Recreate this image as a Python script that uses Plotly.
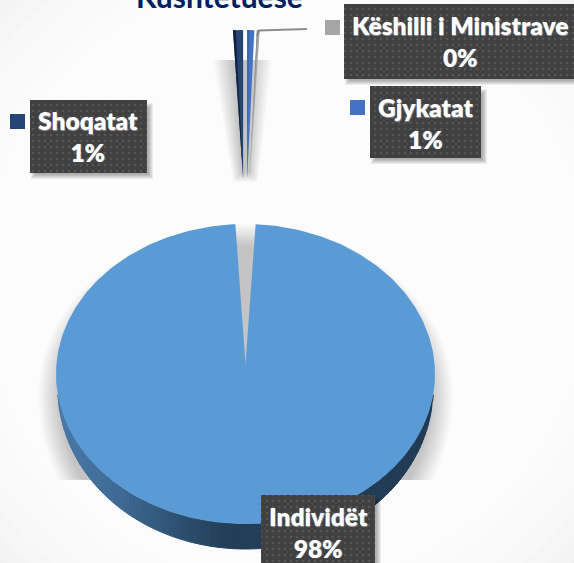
import numpy as np
import plotly.graph_objects as go

# --- data ---
categories = ["Individët", "Shoqatat", "Gjykatat", "Këshilli i Ministrave"]
values = [98.3, 0.85, 0.6, 0.25]
shown_percent = ["98%", "1%", "1%", "0%"]
slice_colors = ["#5B9BD5", "#264478", "#4472C4", "#A5A5A5"]
title_text = "Kushtetuese"

W, H = 574, 563
AX, AY = 245.5, 364      # apex of the big slice
CY, RX, RY = 374, 189.5, 150   # rim of the pie
DEPTH = 25
EXPLODE_Y, EXPLODE_X, SLIVER_RY = 186, 90, 148

fig = go.Figure()


def poly(x, y, color, opacity=None, name=None, seal=False):
    fig.add_trace(go.Scatter(x=list(x), y=list(y), mode="lines", fill="toself",
                             fillcolor=color, line=dict(width=1 if seal else 0, color=color),
                             hoverinfo="skip", showlegend=False, name=name or "", opacity=opacity))


def rect(x0, y0, x1, y1, color):
    poly([x0, x1, x1, x0, x0], [y0, y0, y1, y1, y0], color)


def outline(t):
    """Point on the tilted rim; t in radians clockwise from the top."""
    return AX + RX * np.sin(t), CY - RY * np.cos(t)


# --- soft shadow behind the pie: an enlarged rim, cut off flat underneath ---
tt_all = np.linspace(0, 2 * np.pi, 241)
for i in range(14):
    d = i * 1.6
    sx = 245.5 + (207 - d) * np.sin(tt_all)
    sy = 395 - np.where(np.cos(tt_all) > 0, 171 - d, 200 - d) * np.cos(tt_all)
    poly(sx, np.minimum(sy, 480), "rgba(0,0,0,0.017)")

# --- soft shadow behind the exploded slices ---
for i in range(14):
    d = i * 1.5
    poly([213 + d, 272 - d, 258 - d * 0.45, 233 + d * 0.45, 213 + d],
         [60, 60, 182 - d * 0.5, 182 - d * 0.5, 60], "rgba(0,0,0,0.015)")

# --- slice spans from values ---
total = sum(values)
spans = np.array(values) / total * 2 * np.pi
gap = sum(spans[1:])

# big slice: side wall first
t_main = np.linspace(gap / 2, 2 * np.pi - gap / 2, 361)
mx, my = outline(t_main)
wall_t = np.linspace(np.pi / 2 - 0.02, 3 * np.pi / 2 + 0.02, 121)


def wall_color(x):
    stops = [(56, (74, 122, 168)), (120, (62, 105, 148)), (180, (45, 80, 112)),
             (225, (35, 62, 88)), (435, (34, 60, 85))]
    xs = [s[0] for s in stops]
    r, g, b = [np.interp(x, xs, [s[1][k] for s in stops]) for k in range(3)]
    return f"rgb({r:.0f},{g:.0f},{b:.0f})"


def wall_drop(y):
    return DEPTH * np.clip((y - 398) / (CY + RY - 398), 0, 1) ** 0.4


for a, b in zip(wall_t[:-1], wall_t[1:]):
    seg = np.linspace(a, b, 3)
    sx, sy = outline(seg)
    if sy.max() < 398:
        continue
    poly(list(sx) + list(sx[::-1]) + [sx[0]],
         list(sy) + list((sy + wall_drop(sy))[::-1]) + [sy[0]],
         wall_color(sx.mean()), seal=True)

poly(list(mx) + [AX, mx[0]], list(my) + [AY, my[0]], slice_colors[0], name=categories[0])

# exploded small slices
edge_colors = [None, "#12233F", "#3A62AC", "#7F7F7F"]
start = -gap / 2
for i in range(1, 4):
    a0, a1 = start, start + spans[i]
    start = a1
    mid = (a0 + a1) / 2
    px = AX + EXPLODE_X * np.sin(mid)
    py = AY - EXPLODE_Y * np.cos(mid)
    tt = np.linspace(a0, a1, 8)
    sx = px + RX * np.sin(tt)
    sy = py - SLIVER_RY * np.cos(tt)
    poly([px] + list(sx) + [px], [py] + list(sy) + [py], slice_colors[i], name=categories[i])
    # darker left face of each slice
    fx = px + RX * np.sin(a0 + (a1 - a0) * 0.28)
    fy = py - SLIVER_RY
    poly([px, sx[0], fx, px], [py, sy[0], fy, py], edge_colors[i])

# leader line
fig.add_trace(go.Scatter(x=[257, 259, 307], y=[36, 30.5, 29], mode="lines",
                         line=dict(color="#8C8C8C", width=2), hoverinfo="skip", showlegend=False))

# --- labels ---
boxes = {0: (261, 495, 375, 572), 1: (30, 100, 147, 173), 2: (370, 86, 481, 158), 3: (344, 4, 580, 79)}
keys = {0: (240, 508), 1: (10, 114), 2: (350, 100), 3: (325, 20)}
text_x = {0: 318, 1: 88, 2: 425, 3: 460}
text_y = {0: 532, 1: 136, 2: 123, 3: 41}
annots = []
for i, name in enumerate(categories):
    x0, y0, x1, y1 = boxes[i]
    for k in range(6):
        d = k * 0.9
        rect(x0 + 1 + d, y0 + 3 + d, x1 + 6 - d, y1 + 6 - d, "rgba(0,0,0,0.06)")
    fig.add_trace(go.Scatter(x=[x0, x1, x1, x0, x0], y=[y0, y0, y1, y1, y0], mode="lines",
                             fill="toself", line=dict(width=0), hoverinfo="skip", showlegend=False,
                             fillcolor="#404040",
                             fillpattern=dict(shape=".", bgcolor="#404040", fgcolor="#555555",
                                              size=6, solidity=0.16, fillmode="replace")))
    kx, ky = keys[i]
    rect(kx, ky, kx + 15, ky + 15, slice_colors[i])
    annots.append(dict(x=text_x[i], y=text_y[i], xref="x", yref="y", showarrow=False,
                       text=f"{name}<br>{shown_percent[i]}", align="center",
                       font=dict(family="Lato", size=24.5, color="white",
                                 weight=800, shadow="0.5px 0.5px 1px rgba(255,255,255,0.45)"),
                       xanchor="center", yanchor="middle"))

annots.append(dict(x=219, y=16, xref="x", yref="y", showarrow=False, text=title_text,
                   font=dict(family="Lato", size=30, color="#002060", weight="bold"),
                   xanchor="center", yanchor="bottom"))

# page tint: white centre, pale grey corners
bg = []
for r in np.linspace(430, 290, 10):
    bg.append(dict(type="circle", x0=287 - r, x1=287 + r, y0=281 - r, y1=281 + r, xref="x", yref="y",
                   fillcolor="rgba(255,255,255,0.22)", line_width=0, layer="below"))

fig.update_layout(width=W, height=H, margin=dict(l=0, r=0, t=0, b=0),
                  paper_bgcolor="#E8E8E8", plot_bgcolor="rgba(0,0,0,0)", showlegend=False,
                  xaxis=dict(range=[0, W], visible=False, fixedrange=True),
                  yaxis=dict(range=[H, 0], visible=False, fixedrange=True),
                  annotations=annots, shapes=bg)

fig.write_html("out.html", config=dict(displayModeBar=False),
               post_script="document.body.style.margin='0';document.body.style.overflow='hidden';")
